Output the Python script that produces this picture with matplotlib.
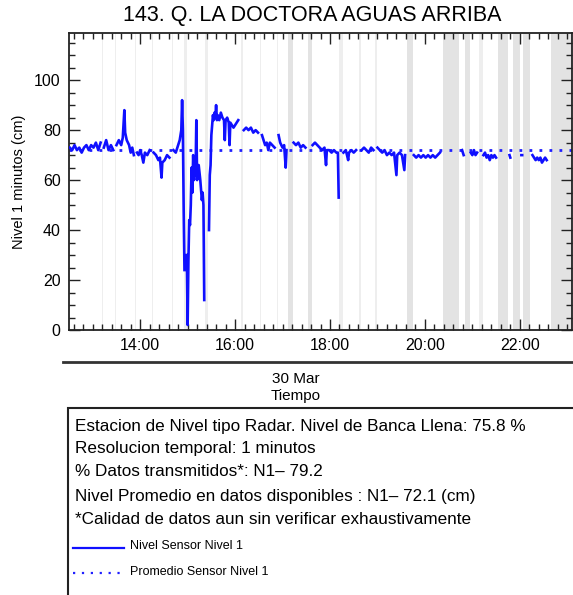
import matplotlib
matplotlib.use("Agg")
import matplotlib.pyplot as plt
import matplotlib.dates as mdates
from matplotlib.patches import Rectangle
from matplotlib.lines import Line2D
import numpy as np
from datetime import datetime, timedelta

plt.rcParams['font.family'] = ['Liberation Sans', 'DejaVu Sans']

title = "143. Q. LA DOCTORA AGUAS ARRIBA"
day = "2023-03-30"
nan = float('nan')

times = ["12:31","12:34","12:37","12:40","12:43","12:46","12:49","12:52","12:55","12:58",
         "13:01","13:04","13:07","13:10","13:12","13:14","13:17","13:20","13:23","13:26",
         "13:28","13:30","13:33","13:36","13:38","13:40","13:41","13:43","13:46","13:48",
         "13:50","13:52","13:54","13:56","13:58","14:00","14:02","14:04","14:06","14:09",
         "14:12","14:15","14:17","14:20","14:23","14:25","14:27","14:28","14:31","14:34",
         "14:37","14:40","14:42","14:45","14:48","14:50","14:52","14:53","14:54","14:55",
         "14:56","14:57","14:59","15:00","15:01","15:02","15:03","15:04","15:05","15:06",
         "15:07","15:08","15:09","15:10","15:11","15:12","15:13","15:14","15:16","15:18",
         "15:19","15:20","15:21","15:22","15:27","15:28","15:29","15:30","15:31","15:32",
         "15:33","15:34","15:35","15:36","15:37","15:38","15:40","15:42","15:44","15:46",
         "15:47","15:48","15:50","15:52","15:53","15:54","15:56","15:58","16:00","16:02",
         "16:04","16:06","16:11","16:14","16:17","16:20","16:23","16:26","16:29","16:31",
         "16:34","16:36","16:38","16:40","16:42","16:44","16:47","16:50","16:52","16:55",
         "16:57","17:00","17:02","17:04","17:05","17:06","17:14","17:17","17:20","17:23",
         "17:26","17:29","17:31","17:38","17:41","17:44","17:47","17:50","17:53","17:55",
         "17:56","17:59","18:02","18:05","18:08","18:10","18:11","18:12","18:17","18:20",
         "18:23","18:24","18:27","18:30","18:33","18:36","18:40","18:43","18:46","18:49",
         "18:52","18:55","18:57","19:00","19:03","19:06","19:09","19:12","19:15","19:18",
         "19:21","19:24","19:25","19:28","19:31","19:34","19:35","19:37","19:46","19:49",
         "19:52","19:55","19:58","20:01","20:04","20:07","20:10","20:13","20:16","20:19",
         "20:22","20:47","20:49","20:50","20:58","21:00","21:02","21:04","21:06","21:08",
         "21:14","21:16","21:18","21:20","21:22","21:24","21:26","21:28","21:30","21:31",
         "21:47","21:48","21:49","22:02","22:03","22:04","22:16","22:18","22:20","22:22",
         "22:24","22:26","22:28","22:30","22:32","22:34","22:36"]

nivel = [73,72,74,72,73,71,73,74,72,74,
         73,75,72,75,nan,73,76,72,74,72,
         nan,74,76,74,77,88,79,76,74,71,
         73,70,nan,71,70,72,70,67,71,70,
         72,nan,71,70,68,69,61,67,68,70,
         69,nan,72,71,74,76,80,92,80,48,
         24,nan,30,2,28,44,42,50,65,55,
         70,60,68,62,84,60,66,66,60,52,
         55,50,12,nan,40,62,66,78,82,86,
         84,87,85,90,84,86,84,87,85,84,
         76,84,85,83,74,83,82,81,82,83,
         84,nan,80,81,80,81,79,80,79,nan,
         78,76,74,75,72,75,74,73,nan,78,
         75,73,74,65,72,nan,75,74,75,73,
         74,73,nan,74,75,74,73,72,73,66,
         72,72,71,72,71,71,53,nan,71,72,
         68,71,72,71,72,nan,72,73,72,71,
         73,72,nan,73,72,71,72,70,71,70,
         71,62,70,71,70,64,70,nan,70,69,
         70,69,70,69,70,69,70,69,70,71,
         nan,72,70,nan,71,70,72,70,71,nan,
         70,71,69,70,68,70,69,70,69,nan,
         70,69,nan,70,70,nan,70,69,68,69,
         68,69,67,68,69,68,nan]

promedio = 72.1

gap_start = ["13:12","13:28","13:54","14:15","14:40","14:56","15:22","16:07","16:32","16:53",
             "17:07","17:32","18:12","18:37","18:57","19:38","20:23","20:51","21:09","21:32",
             "21:51","22:04","22:40"]
gap_end   = ["13:13","13:29","13:55","14:16","14:41","14:59","15:26","16:10","16:33","16:54",
             "17:13","17:37","18:16","18:39","18:59","19:45","20:43","20:57","21:13","21:45",
             "22:00","22:13","23:06"]

info_lines = ["Estacion de Nivel tipo Radar. Nivel de Banca Llena: 75.8 %",
              "Resolucion temporal: 1 minutos",
              "% Datos transmitidos*: N1\u2013 79.2",
              "Nivel Promedio en datos disponibles : N1\u2013 72.1 (cm)",
              "*Calidad de datos aun sin verificar exhaustivamente"]
legend_labels = ["Nivel Sensor Nivel 1", "Promedio Sensor Nivel 1"]


def T(s):
    return datetime.strptime(day + " " + s, "%Y-%m-%d %H:%M")

W, H = 573, 595
fig = plt.figure(figsize=(W / 100, H / 100), dpi=100)
ax = fig.add_axes([69 / W, 1 - 330 / H, (572 - 69) / W, (330 - 32.7) / H])

for a, b in zip(gap_start, gap_end):
    dur = (T(b) - T(a)).total_seconds() / 60
    c = '#e3e3e3' if dur >= 5 else '#eeeeee'
    ax.axvspan(T(a), T(b), color=c, lw=0, zorder=0)

tx = [T(s) for s in times]
ax.plot(tx, nivel, color='#1010ff', lw=1.9, zorder=3)
ax.plot([T("12:30"), T("23:06")], [promedio, promedio], color='#2020ff',
        lw=2, linestyle=(0, (1, 2.6)), zorder=2)

ax.set_xlim(T("12:30"), T("23:06"))
ax.set_ylim(0, 119)
ax.set_yticks([0, 20, 40, 60, 80, 100])
ax.set_yticks(np.arange(0, 120, 5), minor=True)
ax.xaxis.set_major_locator(mdates.HourLocator(byhour=range(0, 24, 2)))
ax.xaxis.set_minor_locator(mdates.MinuteLocator(byminute=[0, 12, 24, 36, 48]))
ax.xaxis.set_major_formatter(mdates.DateFormatter('%H:%M'))
ax.tick_params(which='both', direction='in', top=True, right=True, color='#222222')
ax.tick_params(which='major', length=8, width=1, labelsize=11.5, pad=6)
ax.tick_params(which='minor', length=4, width=1)
for sp in ax.spines.values():
    sp.set_linewidth(1.3)
    sp.set_color('#222222')

ax.set_ylabel("Nivel 1 minutos (cm)", fontsize=10.5, labelpad=6)
fig.text(312 / W, 1 - 15 / H, title, ha='center', va='center', fontsize=15.5)

fig.add_artist(Line2D([63 / W, 1.0], [1 - 362 / H, 1 - 362 / H], color='#333333', lw=2))
fig.text(296 / W, 1 - 379 / H, "30 Mar", ha='center', va='center', fontsize=11)
fig.text(296 / W, 1 - 396 / H, "Tiempo", ha='center', va='center', fontsize=11)

fig.add_artist(Rectangle((68 / W, -0.05), 1.1, (1 - 408 / H) + 0.05, transform=fig.transFigure,
                         fill=False, edgecolor='#222222', lw=1.5))
ys = [427, 449, 472, 496, 519]
for y, s in zip(ys, info_lines):
    fig.text(75 / W, 1 - y / H, s, ha='left', va='center', fontsize=12.3)

fig.add_artist(Line2D([73 / W, 124 / W], [1 - 548 / H] * 2, color='#1010ff', lw=1.6))
fig.add_artist(Line2D([73 / W, 124 / W], [1 - 573 / H] * 2, color='#2020ff', lw=1.6,
                      linestyle=(0, (1, 3))))
fig.text(130 / W, 1 - 546 / H, legend_labels[0], ha='left', va='center', fontsize=9)
fig.text(130 / W, 1 - 572 / H, legend_labels[1], ha='left', va='center', fontsize=9)

fig.savefig("out.png", dpi=100)
